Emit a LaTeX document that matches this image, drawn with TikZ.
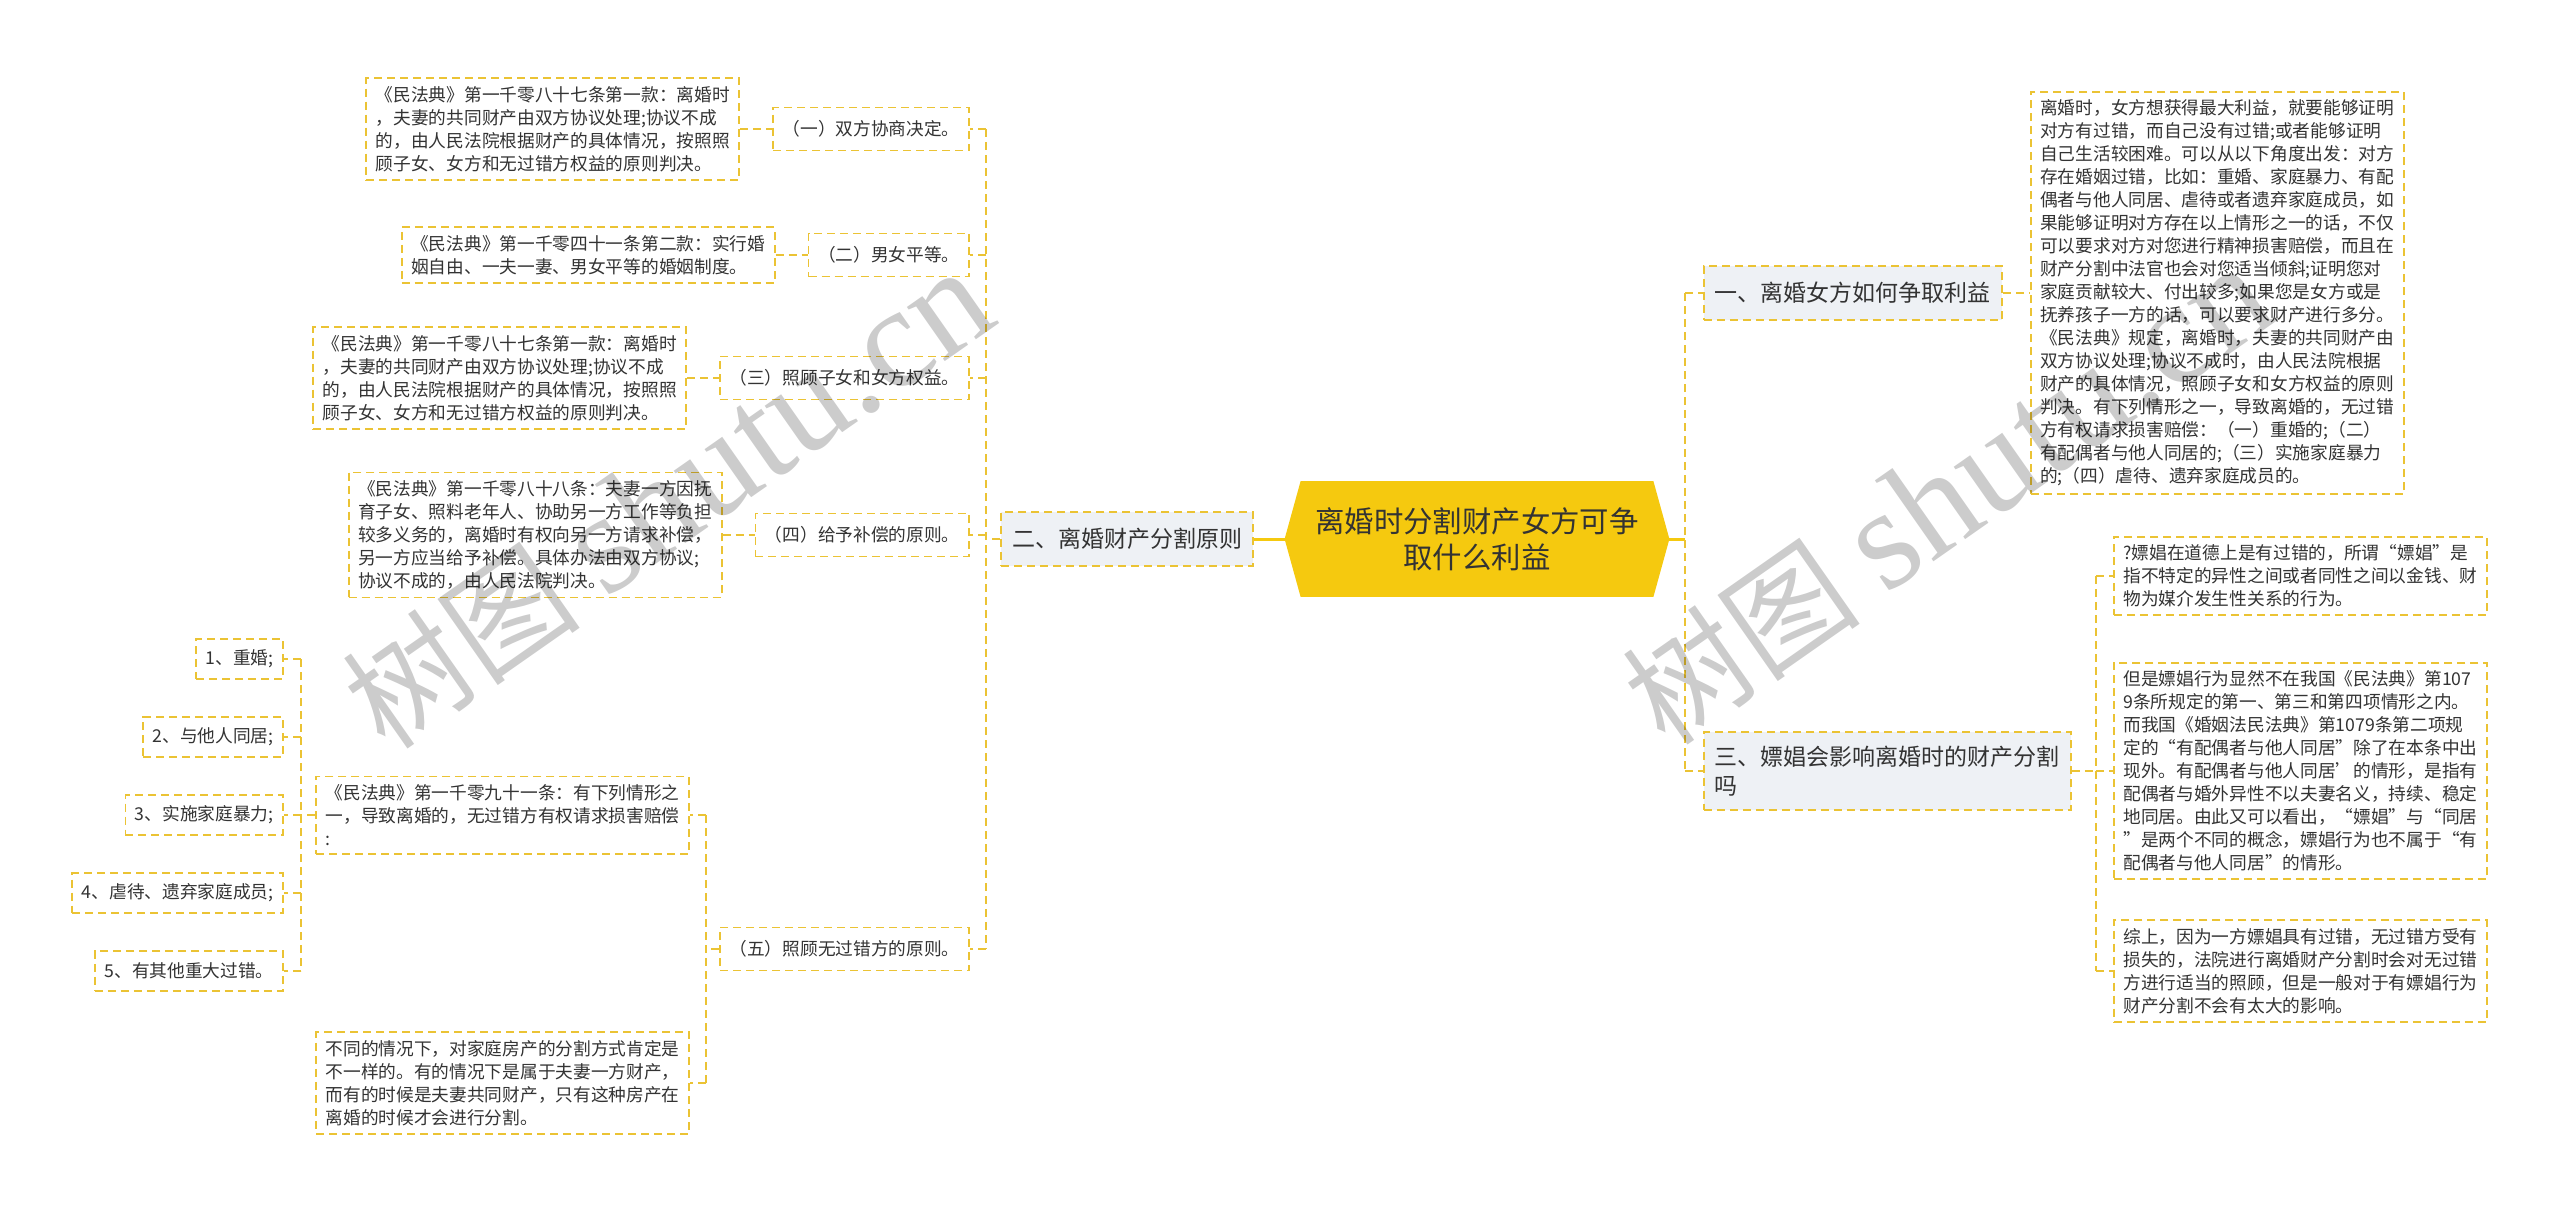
\documentclass[tikz,border=0pt]{standalone}
\usepackage{fontspec}
\setmainfont{Noto Sans CJK SC}
\newfontfamily\markfont{Liberation Serif}
\usepackage{tikz}
\usepackage{xcolor}
\usetikzlibrary{
  positioning, backgrounds,
}
\definecolor{cLine}   {HTML}{EBC334}
\definecolor{cRoot}   {HTML}{F5C90F}
\definecolor{cTopic}  {HTML}{EEF1F5}
\definecolor{cInk}    {HTML}{333333}

\tikzset{
  link/.style={draw=cLine, dash pattern=on 4pt off 2.5pt, line width=0.9pt},
  trunk/.style={draw=cRoot, line width=1.5pt},
  textbox/.style={link, fill=white, text=cInk, align=left,
    font=\fontsize{8.85}{11.5}\selectfont, inner xsep=4.75pt, inner ysep=4pt},
  leafbox/.style={textbox, minimum height=21.5pt, inner ysep=2pt},
  topicbox/.style={link, fill=cTopic, text=cInk, align=left,
    font=\fontsize{11.5}{14.5}\selectfont, inner xsep=5.5pt, inner ysep=7pt,
    minimum height=27pt},
  rootbox/.style={text=cInk, align=center, font=\fontsize{14.7}{18}\selectfont,
    minimum width=176pt, minimum height=57.5pt, inner sep=0pt},
  markstyle/.style={text=black, text opacity=0.2, rotate=35, inner sep=0pt,
    font=\fontsize{60}{60}\selectfont},
}

\begin{document}
\begin{tikzpicture}[x=0.5pt, y=-0.5pt]
  \useasboundingbox (0,0) rectangle (2560,1216);

  % centre
  \node[rootbox] (root) at (1477,539) {离婚时分割财产女方可争\\取什么利益};
  \coordinate[left=8pt of root.west]  (rootL);
  \coordinate[right=8pt of root.east] (rootR);
  \begin{scope}[on background layer]
    \fill[cRoot] (root.north west) -- (root.north east) -- (rootR)
      -- (root.south east) -- (root.south west) -- (rootL) -- cycle;
  \end{scope}

  % left branch
  \node[topicbox, anchor=east] (twoP) at (1254,539) {二、离婚财产分割原则};
  \node[leafbox, anchor=east] (b1) at (970,129) {（一）双方协商决定。};
  \node[leafbox, anchor=east] (b2) at (970,255) {（二）男女平等。};
  \node[leafbox, anchor=east] (b3) at (970,378) {（三）照顾子女和女方权益。};
  \node[leafbox, anchor=east] (b4) at (970,535) {（四）给予补偿的原则。};
  \node[leafbox, anchor=east] (b5) at (970,949) {（五）照顾无过错方的原则。};

  \node[textbox, left=16pt of b1] (a1)
    {《民法典》第一千零八十七条第一款：离婚时\\，夫妻的共同财产由双方协议处理;协议不成\\的，由人民法院根据财产的具体情况，按照照\\顾子女、女方和无过错方权益的原则判决。};
  \node[textbox, left=16pt of b2] (a2)
    {《民法典》第一千零四十一条第二款：实行婚\\姻自由、一夫一妻、男女平等的婚姻制度。};
  \node[textbox, left=16pt of b3] (a3)
    {《民法典》第一千零八十七条第一款：离婚时\\，夫妻的共同财产由双方协议处理;协议不成\\的，由人民法院根据财产的具体情况，按照照\\顾子女、女方和无过错方权益的原则判决。};
  \node[textbox, left=16pt of b4] (a4)
    {《民法典》第一千零八十八条：夫妻一方因抚\\育子女、照料老年人、协助另一方工作等负担\\较多义务的，离婚时有权向另一方请求补偿，\\另一方应当给予补偿。具体办法由双方协议;\\协议不成的，由人民法院判决。};

  \node[textbox, anchor=east] (c1) at (690,815)
    {《民法典》第一千零九十一条：有下列情形之\\一，导致离婚的，无过错方有权请求损害赔偿\\:};
  \node[textbox, anchor=east] (c2) at (690,1083)
    {不同的情况下，对家庭房产的分割方式肯定是\\不一样的。有的情况下是属于夫妻一方财产，\\而有的时候是夫妻共同财产，只有这种房产在\\离婚的时候才会进行分割。};

  \foreach \n/\txt in {1/{1、重婚;}, 2/{2、与他人同居;}, 3/{3、实施家庭暴力;},
                       4/{4、虐待、遗弃家庭成员;}, 5/{5、有其他重大过错。}}
    \node[leafbox, minimum height=20pt, anchor=east] (item\n) at (284,{581+78*\n}) {\txt};

  \draw[trunk] (rootL) -- (twoP.east);
  \coordinate (jL) at (986,539);
  \draw[link] (twoP.west) -- (jL);
  \draw[link] (jL |- b1.east) -- (jL |- b5.east);
  \foreach \n in {1,...,5}
    \draw[link] (jL |- b\n.east) -- (b\n.east);
  \foreach \n in {1,...,4}
    \draw[link] (a\n.east) -- (b\n.west);

  \coordinate (jC) at (706,949);
  \draw[link] (b5.west) -- (jC);
  \draw[link] (jC |- c1.east) -- (jC |- c2.east);
  \draw[link] (jC |- c1.east) -- (c1.east);
  \draw[link] (jC |- c2.east) -- (c2.east);

  \coordinate (jI) at (301,815);
  \draw[link] (c1.west) -- (jI);
  \draw[link] (jI |- item1.east) -- (jI |- item5.east);
  \foreach \n in {1,...,5}
    \draw[link] (jI |- item\n.east) -- (item\n.east);

  % right branch
  \node[topicbox, anchor=west] (oneP) at (1703,293) {一、离婚女方如何争取利益};
  \node[topicbox, anchor=west] (threeP) at (1703,771) {三、嫖娼会影响离婚时的财产分割\\吗};
  \coordinate (jR) at (1685,539);
  \draw[trunk] (rootR) -- (jR);
  \draw[link] (jR |- oneP.west) -- (jR |- threeP.west);
  \draw[link] (jR |- oneP.west) -- (oneP.west);
  \draw[link] (jR |- threeP.west) -- (threeP.west);

  \node[textbox, right=13.5pt of oneP] (d1)
    {离婚时，女方想获得最大利益，就要能够证明\\对方有过错，而自己没有过错;或者能够证明\\自己生活较困难。可以从以下角度出发：对方\\存在婚姻过错，比如：重婚、家庭暴力、有配\\偶者与他人同居、虐待或者遗弃家庭成员，如\\果能够证明对方存在以上情形之一的话，不仅\\可以要求对方对您进行精神损害赔偿，而且在\\财产分割中法官也会对您适当倾斜;证明您对\\家庭贡献较大、付出较多;如果您是女方或是\\抚养孩子一方的话，可以要求财产进行多分。\\《民法典》规定，离婚时，夫妻的共同财产由\\双方协议处理;协议不成时，由人民法院根据\\财产的具体情况，照顾子女和女方权益的原则\\判决。有下列情形之一，导致离婚的，无过错\\方有权请求损害赔偿：（一）重婚的;（二）\\有配偶者与他人同居的;（三）实施家庭暴力\\的;（四）虐待、遗弃家庭成员的。};
  \draw[link] (oneP.east) -- (d1.west);

  \node[textbox, anchor=west] (e1) at (2113,576)
    {?嫖娼在道德上是有过错的，所谓“嫖娼”是\\指不特定的异性之间或者同性之间以金钱、财\\物为媒介发生性关系的行为。};
  \node[textbox, anchor=west] (e2) at (2113,771)
    {但是嫖娼行为显然不在我国《民法典》第107\\9条所规定的第一、第三和第四项情形之内。\\而我国《婚姻法民法典》第1079条第二项规\\定的“有配偶者与他人同居”除了在本条中出\\现外。有配偶者与他人同居’的情形，是指有\\配偶者与婚外异性不以夫妻名义，持续、稳定\\地同居。由此又可以看出，“嫖娼”与“同居\\”是两个不同的概念，嫖娼行为也不属于“有\\配偶者与他人同居”的情形。};
  \node[textbox, anchor=west] (e3) at (2113,971)
    {综上，因为一方嫖娼具有过错，无过错方受有\\损失的，法院进行离婚财产分割时会对无过错\\方进行适当的照顾，但是一般对于有嫖娼行为\\财产分割不会有太大的影响。};
  \coordinate (jE) at (2096,771);
  \draw[link] (threeP.east) -- (jE);
  \draw[link] (jE |- e1.west) -- (jE |- e3.west);
  \foreach \n in {1,2,3}
    \draw[link] (jE |- e\n.west) -- (e\n.west);

  % watermark
  \node[markstyle] (markL) at (668,500) {树图 {\markfont\fontsize{72}{72}\selectfont shutu.cn}};
  \node[markstyle] (markR) at (1948,496) {树图 {\markfont\fontsize{72}{72}\selectfont shutu.cn}};
\end{tikzpicture}
\end{document}
